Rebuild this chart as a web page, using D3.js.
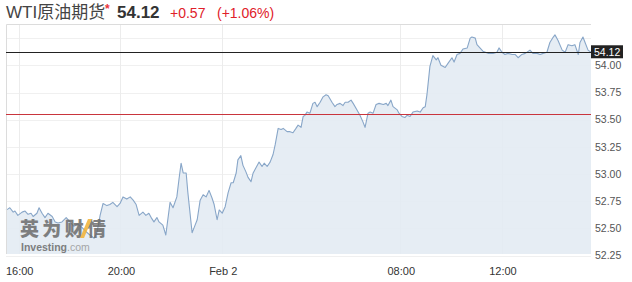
<!DOCTYPE html>
<head>
	<meta charset="UTF-8">
	<script src="https://d3js.org/d3.v7.min.js"></script>
	<style>
		body { margin: 0; background: #fff; }
		svg { display: block; }
	</style>
</head>
<body>
	<div id="chart"></div>
<script>

// quote header
const title = "WTI原油期货";
const lastPrice = 54.12;
const prevClose = 53.55;
const changeText = "+0.57";
const changePctText = "(+1.06%)";

// session: Feb 1 15:30 -> Feb 2 15:30, with 06:00-07:00 break
const sessionStart = "2017-02-01 15:30";
const breakStart = "2017-02-02 06:00";
const breakEnd = "2017-02-02 07:00";
const sessionEnd = "2017-02-02 15:30";

// price series (hh:mm, rolls over to Feb 2 after midnight)
const times = [
  "15:30","15:35","15:39","15:47","15:51","15:58","16:08","16:15","16:22","16:29",
  "16:34","16:43","16:48","16:55","17:02","17:09","17:19","17:26","17:33","17:42",
  "17:52","18:01","18:10","18:20","18:29","18:39","18:48","18:58","19:05","19:12",
  "19:19","19:28","19:35","19:42","19:52","19:59","20:06","20:15","20:23","20:30",
  "20:37","20:44","20:53","21:00","21:07","21:14","21:19","21:26","21:31","21:40",
  "21:47","21:57","22:04","22:13","22:18","22:23","22:28","22:35","22:39","22:49",
  "22:54","23:01","23:08","23:15","23:22","23:29","23:36","23:41","23:48","23:53",
  "00:00","00:07","00:14","00:21","00:26","00:33","00:37","00:44","00:49","00:56",
  "01:01","01:08","01:13","01:20","01:27","01:34","01:39","01:46","01:53","02:00",
  "02:05","02:12","02:19","02:24","02:33","02:40","02:47","02:54","02:59","03:06",
  "03:11","03:15","03:20","03:27","03:34","03:39","03:44","03:51","03:58","04:05",
  "04:10","04:19","04:26","04:31","04:38","04:45","04:50","04:57","05:04","05:09",
  "05:18","05:25","05:32","05:37","05:44","05:49","05:56","07:03","07:10","07:20",
  "07:27","07:31","07:38","07:43","07:53","07:57","08:04","08:11","08:16","08:23",
  "08:30","08:40","08:47","08:54","08:59","09:03","09:10","09:17","09:25","09:29",
  "09:36","09:46","09:53","10:02","10:07","10:14","10:21","10:28","10:38","10:45",
  "10:49","10:57","11:01","11:08","11:15","11:27","11:39","11:48","11:53","12:00",
  "12:07","12:14","12:24","12:31","12:38","12:47","12:55","13:06","13:13","13:23",
  "13:30","13:37","13:46","13:53","14:01","14:05","14:12","14:22","14:29","14:36",
  "14:45","14:52","15:00","15:04","15:11","15:16","15:23","15:30"
];
const prices = [
  52.67,52.68,52.69,52.65,52.66,52.62,52.65,52.66,52.63,52.64,
  52.61,52.64,52.69,52.64,52.60,52.64,52.61,52.56,52.55,52.56,
  52.60,52.56,52.52,52.54,52.51,52.47,52.44,52.41,52.47,52.62,
  52.73,52.71,52.72,52.74,52.70,52.73,52.79,52.77,52.79,52.76,
  52.72,52.62,52.65,52.62,52.64,52.59,52.56,52.60,52.56,52.53,
  52.44,52.74,52.69,52.79,52.95,53.10,53.01,53.01,52.83,52.46,
  52.51,52.58,52.76,52.81,52.79,52.85,52.78,52.72,52.58,52.67,
  52.64,52.70,52.83,52.92,52.92,53.01,53.13,53.17,53.08,53.02,
  52.97,52.93,53.01,53.06,53.11,53.07,53.10,53.07,53.11,53.18,
  53.27,53.42,53.41,53.42,53.39,53.39,53.38,53.42,53.45,53.43,
  53.53,53.54,53.57,53.56,53.65,53.66,53.62,53.66,53.71,53.73,
  53.72,53.66,53.62,53.64,53.65,53.63,53.66,53.66,53.68,53.65,
  53.59,53.54,53.48,53.43,53.56,53.57,53.56,53.64,53.65,53.64,
  53.65,53.63,53.68,53.62,53.59,53.56,53.53,53.52,53.54,53.53,
  53.57,53.58,53.57,53.61,53.62,53.73,53.99,54.09,54.05,54.07,
  54.00,53.98,54.02,54.07,54.03,54.10,54.11,54.15,54.16,54.25,
  54.26,54.25,54.19,54.16,54.13,54.11,54.11,54.12,54.16,54.12,
  54.10,54.11,54.10,54.10,54.07,54.10,54.11,54.14,54.11,54.11,
  54.10,54.11,54.12,54.21,54.26,54.28,54.23,54.14,54.12,54.19,
  54.18,54.19,54.10,54.21,54.26,54.21,54.14,54.12
];

// axes
const yTicks = [52.25, 52.50, 52.75, 53.00, 53.25, 53.50, 53.75, 54.00, 54.25];
const yLabelTicks = [52.25, 52.50, 52.75, 53.00, 53.25, 53.50, 53.75, 54.00];
const xTickTimes = ["2017-02-01 16:00", "2017-02-01 20:00", "2017-02-02 00:00", "2017-02-02 08:00", "2017-02-02 12:00"];
const xTickLabels = ["16:00", "20:00", "Feb 2", "08:00", "12:00"];

const width = 632, height = 282;
const margin = {top: 24, right: 41, bottom: 28, left: 6};
const parse = d3.timeParse("%Y-%m-%d %H:%M");

// build dated series
let day = 1, prev = "";
const data = times.map((t, i) => {
  if (prev && t < prev) day = 2;
  prev = t;
  return {date: parse(`2017-02-0${day} ${t}`), value: prices[i]};
});

const x0 = margin.left, x1 = width - margin.right;
const t0 = parse(sessionStart), tb0 = parse(breakStart), tb1 = parse(breakEnd), t1 = parse(sessionEnd);
const tradeMs = (t1 - t0) - (tb1 - tb0);
const xb = x0 + (x1 - x0) * (tb0 - t0) / tradeMs;

const x = d3.scaleTime()
  .domain([t0, tb0, tb1, t1])
  .range([x0, xb, xb, x1]);

const y = d3.scaleLinear()
  .domain([52.265, 54.38])
  .range([height - margin.bottom, margin.top]);

const svg = d3.select("#chart").append("svg")
  .attr("width", width)
  .attr("height", height)
  .attr("viewBox", [0, 0, width, height]);

// grid
svg.append("g")
  .attr("stroke", "#f0f0f0")
  .selectAll("line")
  .data(yTicks)
  .join("line")
  .attr("x1", x0).attr("x2", x1)
  .attr("y1", d => Math.round(y(d)) + 0.5).attr("y2", d => Math.round(y(d)) + 0.5);

svg.append("g")
  .attr("stroke", "#ececec")
  .selectAll("line")
  .data(xTickTimes)
  .join("line")
  .attr("x1", d => Math.round(x(parse(d))) + 0.5).attr("x2", d => Math.round(x(parse(d))) + 0.5)
  .attr("y1", margin.top).attr("y2", height - margin.bottom);

// area + line
const area = d3.area()
  .x(d => x(d.date))
  .y0(height - margin.bottom)
  .y1(d => y(d.value));

const line = d3.line()
  .x(d => x(d.date))
  .y(d => y(d.value));

svg.append("path")
  .datum(data)
  .attr("fill", "#e3ebf3")
  .attr("fill-opacity", 0.9)
  .attr("d", area);

svg.append("path")
  .datum(data)
  .attr("fill", "none")
  .attr("stroke", "#88a6c8")
  .attr("stroke-width", 1.1)
  .attr("stroke-linejoin", "round")
  .attr("d", line);

// frame (top + left)
svg.append("path")
  .attr("fill", "none")
  .attr("stroke", "#dcdcdc")
  .attr("d", `M${x0 + 0.5},${height - margin.bottom}V${margin.top + 0.5}H${x1}`);

// previous close + last price lines
svg.append("line")
  .attr("x1", x0).attr("x2", x1)
  .attr("y1", Math.round(y(prevClose)) + 0.5).attr("y2", Math.round(y(prevClose)) + 0.5)
  .attr("stroke", "#c9353d");

svg.append("line")
  .attr("x1", x0).attr("x2", x1)
  .attr("y1", Math.round(y(lastPrice)) + 0.5).attr("y2", Math.round(y(lastPrice)) + 0.5)
  .attr("stroke", "#222");

// y labels
svg.append("g")
  .attr("font-family", "Arial, 'Liberation Sans', sans-serif")
  .attr("font-size", 10.5)
  .attr("fill", "#555")
  .selectAll("text")
  .data(yLabelTicks)
  .join("text")
  .attr("x", x1 + 4)
  .attr("y", d => y(d))
  .attr("dy", "0.35em")
  .text(d => d.toFixed(2));

// last price tag
const tagY = y(lastPrice);
svg.append("rect")
  .attr("x", x1).attr("y", tagY - 7)
  .attr("width", 32).attr("height", 13)
  .attr("fill", "#222");
svg.append("text")
  .attr("x", x1 + 3).attr("y", tagY)
  .attr("dy", "0.35em")
  .attr("font-family", "Arial, 'Liberation Sans', sans-serif")
  .attr("font-size", 10.5)
  .attr("fill", "#fff")
  .text(lastPrice.toFixed(2));

// x labels
svg.append("g")
  .attr("font-family", "Arial, 'Liberation Sans', sans-serif")
  .attr("font-size", 11)
  .attr("fill", "#333")
  .attr("text-anchor", "middle")
  .selectAll("text")
  .data(xTickTimes)
  .join("text")
  .attr("x", d => x(parse(d)) + 1)
  .attr("y", 275)
  .text((d, i) => xTickLabels[i]);

// watermark
const wm = svg.append("g").attr("opacity", 0.85);
wm.append("text")
  .attr("x", 20).attr("y", 236)
  .attr("font-family", "'Noto Sans CJK SC', sans-serif")
  .attr("font-weight", 900)
  .attr("font-size", 19)
  .attr("fill", "#6b6b6b")
  .attr("textLength", 86)
  .text("英为财情");
wm.append("path")
  .attr("d", "M88,219L92,219L84,238L80,238Z")
  .attr("fill", "#f2b233");
wm.append("text")
  .attr("x", 21).attr("y", 251)
  .attr("font-family", "Arial, 'Liberation Sans', sans-serif")
  .attr("font-size", 10.5)
  .attr("fill", "#6b6b6b")
  .call(t => t.append("tspan").attr("font-weight", "bold").attr("textLength", 46).text("Investing"))
  .call(t => t.append("tspan").attr("fill", "#999").text(".com"));

// header
const hdr = svg.append("g").attr("font-family", "Arial, 'Liberation Sans', 'Noto Sans CJK SC', sans-serif");
hdr.append("text")
  .attr("x", 6).attr("y", 18)
  .attr("font-size", 17)
  .attr("fill", "#444")
  .text(title);
hdr.append("text")
  .attr("x", 105).attr("y", 13)
  .attr("font-size", 12)
  .attr("font-weight", "bold")
  .attr("fill", "#e8313a")
  .text("*");
hdr.append("text")
  .attr("x", 117).attr("y", 18)
  .attr("font-size", 17)
  .attr("font-weight", "bold")
  .attr("fill", "#333")
  .text(lastPrice.toFixed(2));
hdr.append("text")
  .attr("x", 170).attr("y", 18)
  .attr("font-size", 14)
  .attr("fill", "#e0202a")
  .text(changeText);
hdr.append("text")
  .attr("x", 217).attr("y", 18)
  .attr("font-size", 14)
  .attr("fill", "#e0202a")
  .text(changePctText);

</script>
</body>
</html>
